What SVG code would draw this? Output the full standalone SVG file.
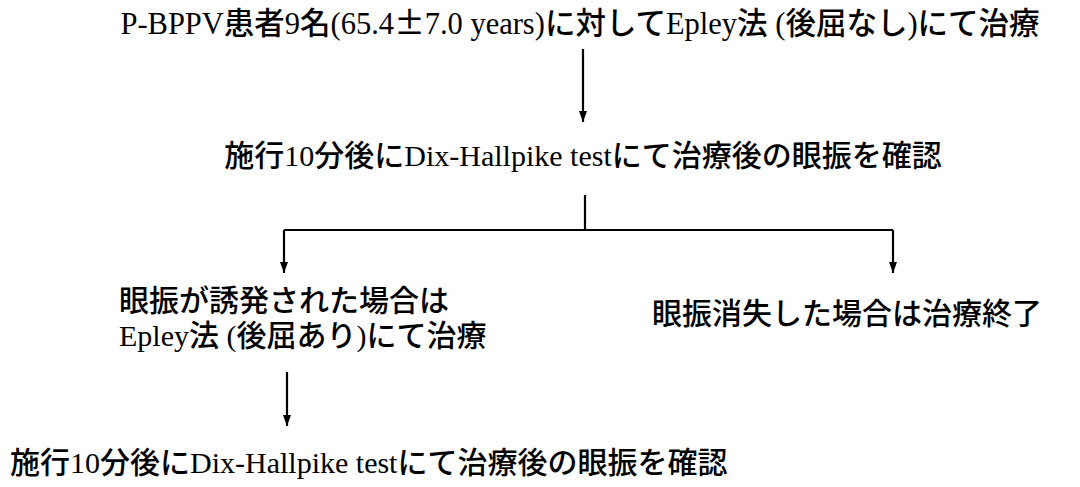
<svg xmlns="http://www.w3.org/2000/svg" width="1080" height="487" viewBox="0 0 1080 487">
<style>
  .t { font-family: "Liberation Serif", "Noto Sans CJK JP", serif; font-size: 30px; font-weight: 500; fill: #000; }
  .top { font-size: 30.5px; }
  .cj { font-family: "Noto Sans CJK JP", sans-serif; }
  .ln { stroke: #000; stroke-width: 2.2; fill: none; }
</style>
<defs>
  <marker id="ahd" viewBox="0 0 11 8" refX="11" refY="4" markerWidth="11" markerHeight="8" markerUnits="userSpaceOnUse" orient="auto">
    <path d="M0,0 L11,4 L0,8 Z" fill="#000"/>
  </marker>
</defs>
<rect width="1080" height="487" fill="#fff"/>
<g id="n1"><text class="t top" x="580" y="34" text-anchor="middle">P-BPPV患者9名(65.4<tspan class="cj">±</tspan>7.0 years)に対してEpley法 (後屈なし)にて治療</text></g>
<g id="n2"><text class="t" x="583" y="166" text-anchor="middle">施行10分後にDix-Hallpike testにて治療後の眼振を確認</text></g>
<g id="n3"><text class="t" x="119" y="311">眼振が誘発された場合は</text><text class="t" x="119" y="346">Epley法 (後屈あり)にて治療</text></g>
<g id="n4"><text class="t" x="652" y="324">眼振消失した場合は治療終了</text></g>
<g id="n5"><text class="t" x="10" y="473">施行10分後にDix-Hallpike testにて治療後の眼振を確認</text></g>
<g id="connectors">
  <path class="ln" d="M583,49 V122" marker-end="url(#ahd)"/>
  <path class="ln" d="M585,195 V230"/>
  <path class="ln" d="M284,230 H893"/>
  <path class="ln" d="M284,230 V273" marker-end="url(#ahd)"/>
  <path class="ln" d="M893,230 V273" marker-end="url(#ahd)"/>
  <path class="ln" d="M287,372 V426" marker-end="url(#ahd)"/>
</g>
</svg>
